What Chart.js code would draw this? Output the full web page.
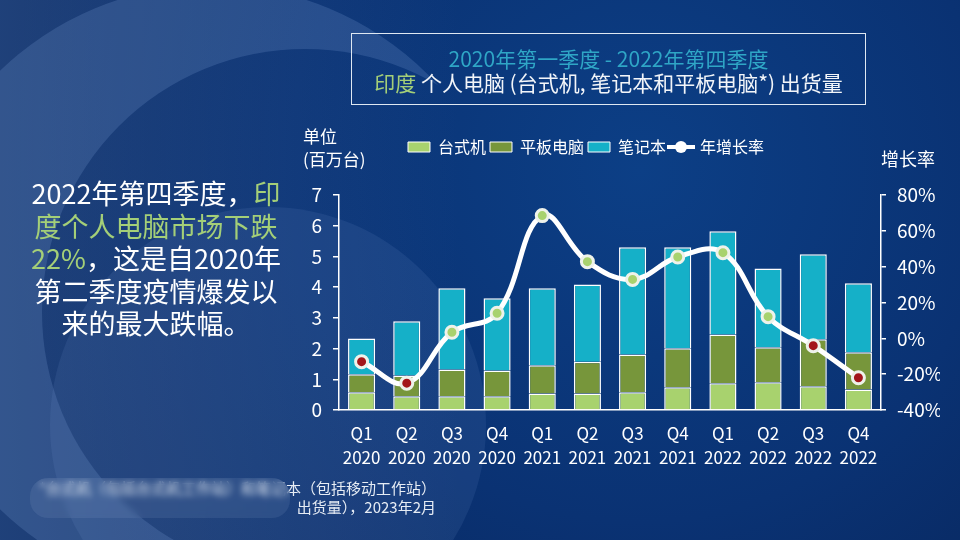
<!DOCTYPE html>
<html lang="zh-CN">
<head>
<meta charset="utf-8">
<title>印度个人电脑出货量</title>
<script src="https://cdn.jsdelivr.net/npm/chart.js@4"></script>
<style>
  html, body { margin: 0; padding: 0; }
  body {
    width: 960px; height: 540px; overflow: hidden; position: relative;
    font-family: "Noto Sans CJK SC", "Noto Sans", sans-serif; color: #fff;
    background: #0a3270;
  }
  #bg { position: absolute; left: 0; top: 0; }
  #chart { position: absolute; left: 0; top: 0; }
  .titleBox {
    position: absolute; left: 351px; top: 33px; width: 515px; height: 72px;
    border: 1px solid #dfe8f2; text-align: center; font-size: 21px; line-height: 24px;
    padding-top: 12px; box-sizing: border-box;
  }
  .titleBox .l1 { color: #2fa6c6; }
  .titleBox .l2 { color: #f2f5f9; }
  .green { color: #a4cf78; }
  .lead {
    position: absolute; left: 21px; top: 177px; width: 270px; text-align: center;
    font-size: 27px; line-height: 32.5px; color: #fff;
  }
  .unit { position: absolute; left: 303px; top: 124px; font-size: 17px; line-height: 23px; }
  .rate { position: absolute; left: 881px; top: 147px; font-size: 18px; line-height: 22px; }
  .note {
    position: absolute; left: 0; top: 478px; width: 436px; text-align: right;
    font-size: 15px; line-height: 19px; color: #e6ecf4;
  }
  .smudge {
    position: absolute; left: 30px; top: 478px; width: 260px; height: 40px;
    backdrop-filter: blur(3px); background: rgba(190, 210, 235, 0.10);
    border-radius: 18px;
  }
</style>
</head>
<body>
<svg id="bg" width="960" height="540">
  <defs>
    <radialGradient id="base" cx="640" cy="170" r="640" gradientUnits="userSpaceOnUse">
      <stop offset="0" stop-color="#0c3f86"/>
      <stop offset="0.55" stop-color="#0a3273"/>
      <stop offset="1" stop-color="#08255a"/>
    </radialGradient>
    <linearGradient id="leftGlow" x1="0" y1="0" x2="460" y2="0" gradientUnits="userSpaceOnUse">
      <stop offset="0" stop-color="#4a74b4" stop-opacity="0.35"/>
      <stop offset="1" stop-color="#4a74b4" stop-opacity="0"/>
    </linearGradient>
    <mask id="cres">
      <rect width="960" height="540" fill="black"/>
      <circle cx="212" cy="290" r="305" fill="white"/>
      <circle cx="305" cy="312" r="263" fill="black"/>
    </mask>
  </defs>
  <rect width="960" height="540" fill="url(#base)"/>
  <rect width="960" height="540" fill="url(#leftGlow)"/>
  <rect width="960" height="540" fill="#7c9fd6" opacity="0.22" mask="url(#cres)"/>
  <circle cx="268" cy="425" r="218" fill="#7d9fd6" opacity="0.12"/>
</svg>

<canvas id="chart" width="960" height="540"></canvas>

<div class="titleBox">
  <div class="l1">2020年第一季度 - 2022年第四季度</div>
  <div class="l2"><span class="green">印度</span> 个人电脑 (台式机, 笔记本和平板电脑*) 出货量</div>
</div>

<div class="lead">
  2022年第四季度，<span class="green">印</span><br>
  <span class="green">度个人电脑市场下跌</span><br>
  <span class="green">22%</span>，这是自2020年<br>
  第二季度疫情爆发以<br>
  来的最大跌幅。
</div>

<div class="unit">单位<br>(百万台)</div>
<div class="rate">增长率</div>

<div class="note">
  *台式机（包括台式机工作站）和笔记本（包括移动工作站）<br>
  出货量），2023年2月
</div>
<div class="smudge"></div>

<script>
// values (millions of units / year-on-year %)
const xLabels = [
  ['Q1', '2020'], ['Q2', '2020'], ['Q3', '2020'], ['Q4', '2020'],
  ['Q1', '2021'], ['Q2', '2021'], ['Q3', '2021'], ['Q4', '2021'],
  ['Q1', '2022'], ['Q2', '2022'], ['Q3', '2022'], ['Q4', '2022']
];
const desktop  = [0.58, 0.45, 0.45, 0.45, 0.54, 0.54, 0.58, 0.74, 0.87, 0.90, 0.77, 0.67];
const tablet   = [0.58, 0.67, 0.87, 0.84, 0.92, 1.03, 1.23, 1.27, 1.59, 1.14, 1.53, 1.21];
const notebook = [1.17, 1.77, 2.64, 2.35, 2.50, 2.52, 3.49, 3.29, 3.36, 2.57, 2.77, 2.25];
const growth   = [-13, -25, 3.4, 14, 68.5, 42.8, 32.9, 45.4, 47.8, 12.1, -4.1, -22];

const FONT = '"Noto Sans CJK SC", "Noto Sans", sans-serif';
Chart.defaults.font.family = FONT;
Chart.defaults.color = '#ffffff';

// legend icon for the growth line: a short line with a dot
const lineIcon = document.createElement('canvas');
lineIcon.width = 28;
lineIcon.height = 14;
const ic = lineIcon.getContext('2d');
ic.strokeStyle = '#ffffff';
ic.lineWidth = 4;
ic.beginPath(); ic.moveTo(0, 7); ic.lineTo(28, 7); ic.stroke();
ic.fillStyle = '#ffffff';
ic.beginPath(); ic.arc(14, 7, 6, 0, Math.PI * 2); ic.fill();

// push the plot down under the legend
const legendGap = {
  id: 'legendGap',
  beforeLayout(chart) {
    const lg = chart.legend;
    if (lg && !lg._gapPatched) {
      const fit = lg.fit;
      lg.fit = function () { fit.call(this); this.height += 30; };
      lg._gapPatched = true;
    }
  }
};

new Chart(document.getElementById('chart'), {
  type: 'bar',
  data: {
    labels: xLabels,
    datasets: [
      {
        label: '台式机', data: desktop, backgroundColor: '#a8d26e',
        borderColor: '#ffffff', borderWidth: 1.5, order: 1
      },
      {
        label: '平板电脑', data: tablet, backgroundColor: '#77963b',
        borderColor: '#ffffff', borderWidth: 1.5, order: 1
      },
      {
        label: '笔记本', data: notebook, backgroundColor: '#15b0c8',
        borderColor: '#ffffff', borderWidth: 1.5, order: 1
      },
      {
        type: 'line', label: '年增长率', data: growth, yAxisID: 'y1', order: 0,
        borderColor: '#ffffff', borderWidth: 5, tension: 0.4,
        pointRadius: 6, pointBorderWidth: 3, pointBorderColor: '#eef2ea',
        pointBackgroundColor: growth.map(v => v < 0 ? '#a3161a' : '#a8d26e')
      }
    ]
  },
  options: {
    responsive: false,
    animation: false,
    events: [],
    barPercentage: 0.6,
    categoryPercentage: 1,
    layout: { padding: { left: 232, right: 20, top: 135, bottom: 70 } },
    plugins: {
      tooltip: { enabled: false },
      legend: {
        position: 'top',
        labels: {
          color: '#ffffff',
          font: { size: 16 },
          padding: 4,
          usePointStyle: true,
          pointStyleWidth: 22,
          boxHeight: 10,
          sort: (a, b) => a.datasetIndex - b.datasetIndex,
          generateLabels(chart) {
            const items = Chart.defaults.plugins.legend.labels.generateLabels(chart);
            items.forEach(it => {
              it.pointStyle = chart.data.datasets[it.datasetIndex].type === 'line' ? lineIcon : 'rect';
              it.lineWidth = 1;
            });
            return items;
          }
        }
      }
    },
    scales: {
      x: {
        stacked: true,
        grid: { display: false, drawTicks: false },
        border: { display: true, color: '#ffffff', width: 1.5 },
        ticks: { color: '#ffffff', font: { size: 17, lineHeight: 1.42 }, padding: 11, maxRotation: 0 },
        afterFit: s => { s.height = 60; }
      },
      y: {
        stacked: true,
        min: 0, max: 7,
        ticks: { stepSize: 1, color: '#ffffff', font: { size: 19 }, padding: 11 },
        grid: { drawOnChartArea: false, color: '#ffffff', tickLength: 6, lineWidth: 1.5 },
        border: { display: true, color: '#ffffff', width: 1.5 },
        afterFit: s => { s.width = 107; }
      },
      y1: {
        position: 'right',
        min: -40, max: 80,
        ticks: { stepSize: 20, color: '#ffffff', font: { size: 19 }, padding: 11, callback: v => v + '%' },
        grid: { drawOnChartArea: false, color: '#ffffff', tickLength: 5, lineWidth: 1.5 },
        border: { display: true, color: '#ffffff', width: 1.5 },
        afterFit: s => { s.width = 59; }
      }
    }
  },
  plugins: [legendGap]
});
</script>
</body>
</html>
